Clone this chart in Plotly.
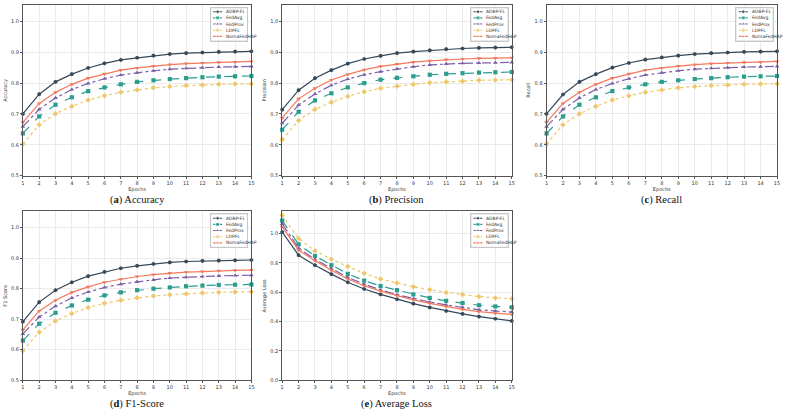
import plotly.graph_objects as go

W, H = 787, 417

epochs = list(range(1, 16))
methods = ["ADBP-FL", "FedAvg", "FedProx", "LDPFL", "NomaFedHAP"]

# (a) Accuracy
acc_adbpfl = [0.700, 0.764, 0.804, 0.829, 0.849, 0.864, 0.875, 0.882, 0.889, 0.894, 0.897, 0.899, 0.901, 0.902, 0.903]
acc_fedavg = [0.637, 0.692, 0.730, 0.754, 0.774, 0.786, 0.796, 0.804, 0.809, 0.813, 0.816, 0.819, 0.821, 0.822, 0.823]
acc_fedprox = [0.659, 0.715, 0.752, 0.779, 0.799, 0.814, 0.826, 0.834, 0.840, 0.845, 0.848, 0.850, 0.852, 0.853, 0.854]
acc_ldpfl = [0.603, 0.665, 0.701, 0.725, 0.745, 0.759, 0.770, 0.778, 0.785, 0.789, 0.792, 0.794, 0.796, 0.797, 0.798]
acc_noma = [0.673, 0.734, 0.770, 0.796, 0.816, 0.830, 0.842, 0.849, 0.855, 0.860, 0.863, 0.865, 0.867, 0.868, 0.870]

# (b) Precision
pre_adbpfl = [0.714, 0.777, 0.816, 0.842, 0.863, 0.878, 0.888, 0.897, 0.902, 0.906, 0.910, 0.912, 0.914, 0.915, 0.916]
pre_fedavg = [0.649, 0.707, 0.744, 0.767, 0.786, 0.800, 0.811, 0.817, 0.822, 0.827, 0.830, 0.832, 0.834, 0.835, 0.836]
pre_fedprox = [0.670, 0.729, 0.765, 0.793, 0.813, 0.827, 0.837, 0.846, 0.853, 0.859, 0.862, 0.864, 0.865, 0.866, 0.867]
pre_ldpfl = [0.617, 0.679, 0.715, 0.738, 0.757, 0.772, 0.783, 0.790, 0.796, 0.801, 0.804, 0.806, 0.809, 0.810, 0.811]
pre_noma = [0.687, 0.749, 0.783, 0.810, 0.828, 0.843, 0.854, 0.862, 0.868, 0.872, 0.876, 0.878, 0.880, 0.881, 0.882]

# (c) Recall
rec_adbpfl = [0.700, 0.763, 0.804, 0.829, 0.850, 0.865, 0.876, 0.883, 0.889, 0.894, 0.897, 0.899, 0.901, 0.902, 0.903]
rec_fedavg = [0.637, 0.692, 0.730, 0.754, 0.774, 0.786, 0.796, 0.804, 0.809, 0.813, 0.816, 0.819, 0.821, 0.822, 0.823]
rec_fedprox = [0.659, 0.715, 0.752, 0.779, 0.799, 0.814, 0.826, 0.834, 0.840, 0.845, 0.848, 0.850, 0.852, 0.853, 0.854]
rec_ldpfl = [0.603, 0.665, 0.701, 0.725, 0.745, 0.759, 0.770, 0.778, 0.785, 0.789, 0.792, 0.794, 0.796, 0.797, 0.798]
rec_noma = [0.673, 0.734, 0.770, 0.796, 0.816, 0.830, 0.842, 0.849, 0.855, 0.860, 0.863, 0.865, 0.867, 0.868, 0.870]

# (d) F1 Score
f1_adbpfl = [0.692, 0.756, 0.795, 0.821, 0.841, 0.855, 0.867, 0.875, 0.881, 0.886, 0.889, 0.891, 0.892, 0.893, 0.894]
f1_fedavg = [0.630, 0.685, 0.721, 0.745, 0.764, 0.778, 0.788, 0.795, 0.800, 0.804, 0.808, 0.810, 0.812, 0.813, 0.814]
f1_fedprox = [0.652, 0.707, 0.743, 0.770, 0.789, 0.804, 0.815, 0.823, 0.829, 0.835, 0.838, 0.840, 0.842, 0.843, 0.844]
f1_ldpfl = [0.597, 0.657, 0.694, 0.719, 0.738, 0.752, 0.762, 0.770, 0.776, 0.780, 0.783, 0.786, 0.788, 0.789, 0.790]
f1_noma = [0.665, 0.727, 0.762, 0.788, 0.806, 0.821, 0.831, 0.840, 0.846, 0.851, 0.854, 0.856, 0.859, 0.860, 0.861]

# (e) Average Loss
loss_adbpfl = [1.010, 0.852, 0.784, 0.723, 0.668, 0.622, 0.585, 0.552, 0.522, 0.496, 0.472, 0.452, 0.434, 0.419, 0.404]
loss_fedavg = [1.088, 0.926, 0.847, 0.784, 0.725, 0.679, 0.642, 0.614, 0.585, 0.561, 0.541, 0.526, 0.511, 0.503, 0.497]
loss_fedprox = [1.065, 0.900, 0.823, 0.760, 0.701, 0.655, 0.616, 0.583, 0.557, 0.533, 0.513, 0.496, 0.480, 0.472, 0.465]
loss_ldpfl = [1.125, 0.965, 0.882, 0.825, 0.775, 0.729, 0.690, 0.662, 0.637, 0.616, 0.598, 0.584, 0.570, 0.561, 0.555]
loss_noma = [1.045, 0.886, 0.815, 0.749, 0.690, 0.644, 0.607, 0.576, 0.548, 0.524, 0.502, 0.483, 0.467, 0.456, 0.448]

panel_series = [
    [acc_adbpfl, acc_fedavg, acc_fedprox, acc_ldpfl, acc_noma],
    [pre_adbpfl, pre_fedavg, pre_fedprox, pre_ldpfl, pre_noma],
    [rec_adbpfl, rec_fedavg, rec_fedprox, rec_ldpfl, rec_noma],
    [f1_adbpfl, f1_fedavg, f1_fedprox, f1_ldpfl, f1_noma],
    [loss_adbpfl, loss_fedavg, loss_fedprox, loss_ldpfl, loss_noma],
]
y_titles = ["Accuracy", "Precision", "Recall", "F1 Score", "Average Loss"]
captions = ["(<b>a</b>) Accuracy", "(<b>b</b>) Precision", "(<b>c</b>) Recall",
            "(<b>d</b>) F1-Score", "(<b>e</b>) Average Loss"]

colors = ["#34495a", "#2a9d8f", "#7d5ea8", "#efc76a", "#f2785f"]
symbols = ["hexagon", "square", "triangle-up", "diamond", "triangle-down"]
dashes = ["solid", "dash", "dashdot", "dot", "solid"]

# panel geometry in pixels: x0, x1, ytop, ybottom
geom = [
    (21, 251, 5, 177),
    (282, 513, 5, 177),
    (548, 780, 5, 177),
    (21, 251, 213, 383),
    (282, 513, 213, 383),
]
y_ranges = [[0.5, 1.053]] * 4 + [[0.0, 1.15]]
y_dticks = [0.1] * 4 + [0.2]

fig = go.Figure()
layout = {}
annotations = []

def px_x(v):
    return v / W

def px_y(v):
    return 1 - v / H

TICKFONT = dict(family="DejaVu Sans", size=5, color="#333333")

for p in range(5):
    k = p + 1
    xa = "x" if k == 1 else f"x{k}"
    ya = "y" if k == 1 else f"y{k}"
    x0, x1, yt, yb = geom[p]
    for i, m in enumerate(methods):
        fig.add_trace(go.Scatter(
            x=epochs, y=panel_series[p][i], name=m, mode="lines+markers",
            line=dict(color=colors[i], width=1.2, dash=dashes[i]),
            marker=dict(symbol=symbols[i], size=4.2, color=colors[i]),
            xaxis=xa, yaxis=ya, showlegend=False, cliponaxis=False,
        ))
    layout["xaxis" if k == 1 else f"xaxis{k}"] = dict(
        domain=[px_x(x0), px_x(x1)], anchor=ya, range=[1, 15],
        tickmode="linear", tick0=1, dtick=1, showgrid=True,
        gridcolor="#ebebeb", gridwidth=0.6, showline=True, mirror=True,
        linecolor="#555555", linewidth=0.9, ticks="outside", ticklen=2,
        tickwidth=0.6, tickcolor="#555555", tickfont=TICKFONT, zeroline=False,
        title=dict(text="Epochs", font=TICKFONT, standoff=2),
    )
    layout["yaxis" if k == 1 else f"yaxis{k}"] = dict(
        domain=[px_y(yb), px_y(yt)], anchor=xa, range=y_ranges[p],
        tickmode="linear", tick0=0, dtick=y_dticks[p], tickformat=".1f",
        showgrid=True, gridcolor="#ebebeb", gridwidth=0.6, showline=True,
        mirror=True, linecolor="#555555", linewidth=0.9, ticks="outside",
        ticklen=2, tickwidth=0.6, tickcolor="#555555", tickfont=TICKFONT,
        zeroline=False, title=dict(text=y_titles[p], font=TICKFONT, standoff=3),
    )
    cy = 201 if p < 3 else 407
    annotations.append(dict(
        text=captions[p], x=px_x((x0 + x1) / 2), y=px_y(cy), xref="paper",
        yref="paper", showarrow=False, xanchor="center", yanchor="middle",
        font=dict(family="Liberation Serif", size=10.5, color="#111111"),
    ))

# legend insets (one per panel)
LW, LH = 37, 33
for p in range(5):
    k = p + 6
    xa, ya = f"x{k}", f"y{k}"
    x0, x1, yt, yb = geom[p]
    lx1 = x1 - 4
    lx0 = lx1 - LW
    ly0 = yt + 3
    ly1 = ly0 + LH
    fig.add_trace(go.Scatter(
        x=[0, LW, LW, 0, 0], y=[0, 0, LH, LH, 0], mode="lines", fill="toself",
        fillcolor="rgba(255,255,255,0.92)", line=dict(color="#c8c8c8", width=0.7),
        xaxis=xa, yaxis=ya, showlegend=False, hoverinfo="skip",
        cliponaxis=False,
    ))
    for i, m in enumerate(methods):
        yy = 3.8 + 6.2 * i
        fig.add_trace(go.Scatter(
            x=[2.5, 7, 11.5], y=[yy, yy, yy], mode="lines+markers",
            line=dict(color=colors[i], width=1.1, dash=dashes[i]),
            marker=dict(symbol=symbols[i], size=[0, 4, 0], color=colors[i]),
            xaxis=xa, yaxis=ya, showlegend=False, hoverinfo="skip",
        ))
        annotations.append(dict(
            text=m, x=13.5, y=yy, xref=xa, yref=ya, showarrow=False,
            xanchor="left", yanchor="middle",
            font=dict(family="DejaVu Sans", size=4.5, color="#333333"),
        ))
    common = dict(showline=True, mirror=True, linecolor="#c8c8c8", linewidth=0.7,
                  showgrid=False, zeroline=False, showticklabels=False,
                  ticks="", fixedrange=True)
    layout[f"xaxis{k}"] = dict(domain=[px_x(lx0), px_x(lx1)], anchor=ya,
                               range=[0, LW], **common)
    layout[f"yaxis{k}"] = dict(domain=[px_y(ly1), px_y(ly0)], anchor=xa,
                               range=[LH, 0], **common)

fig.update_layout(
    width=W, height=H, margin=dict(l=0, r=0, t=0, b=0),
    paper_bgcolor="white", plot_bgcolor="white", showlegend=False,
    annotations=annotations, **layout,
)

fig.write_html("out.html")
